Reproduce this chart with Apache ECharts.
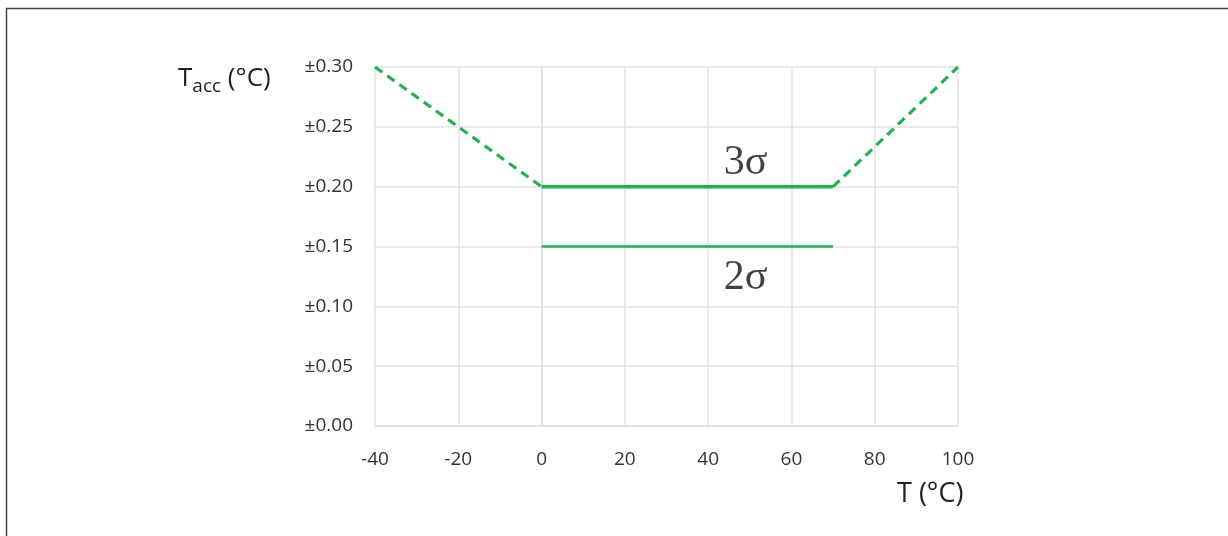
<!DOCTYPE html>
<html>
<head>
<meta charset="utf-8">
<script src="https://cdn.jsdelivr.net/npm/echarts@6/dist/echarts.min.js"></script>
<style>html,body{margin:0;padding:0;background:#fff}#c{width:1228px;height:536px}</style>
</head>
<body>
<div id="c"></div>
<script>
// Data
const xTicks = [-40, -20, 0, 20, 40, 60, 80, 100];
const yTicks = [0.00, 0.05, 0.10, 0.15, 0.20, 0.25, 0.30];
const sigma3Solid = [[0, 0.20], [70, 0.20]];
const sigma3DashLeft = [[-40, 0.30], [0, 0.20]];
const sigma3DashRight = [[70, 0.20], [100, 0.30]];
const sigma2Solid = [[0, 0.15], [70, 0.15]];
const labelPoints = [[49, 0.2195, '3σ'], [49, 0.1235, '2σ']];

const green = '#1fb24e';
const gridColor = '#dfe3e9';
const chart = echarts.init(document.getElementById('c'));
chart.setOption({
  animation: false,
  backgroundColor: '#fff',
  grid: { left: 375, right: 270, top: 67, bottom: 110 },
  xAxis: {
    type: 'value', min: -40, max: 100, interval: 20,
    axisLine: { show: true, lineStyle: { color: gridColor, width: 2 } },
    axisTick: { show: false },
    splitLine: { show: true, lineStyle: { color: gridColor, width: 1.5 } },
    axisLabel: { color: '#333', fontSize: 19, fontFamily: 'Open Sans', margin: 24 }
  },
  yAxis: {
    type: 'value', min: 0, max: 0.3, interval: 0.05,
    axisLine: { show: true, lineStyle: { color: gridColor, width: 2 } },
    axisTick: { show: false },
    splitLine: { show: true, lineStyle: { color: gridColor, width: 1.5 } },
    axisLabel: {
      color: '#333', fontSize: 19, fontFamily: 'Open Sans', margin: 22,
      formatter: v => '±' + v.toFixed(2)
    }
  },
  graphic: [
    { type: 'rect', shape: { x: 6.5, y: 8.5, width: 1300, height: 600 }, style: { fill: 'none', stroke: '#444', lineWidth: 1.5 }, z: 100 },
    { type: 'text', left: 178, top: 66, style: {
        text: '{a|T}{b|acc}{a| (°C)}',
        rich: {
          a: { fontSize: 26, fontFamily: 'Open Sans', fill: '#222' },
          b: { fontSize: 19, fontFamily: 'Open Sans', fill: '#222', padding: [16, 0, 0, 0] }
        }
      } },
    { type: 'text', left: 897, top: 481, style: { text: 'T (°C)', fontSize: 27, fontFamily: 'Open Sans', fill: '#222' } }
  ],
  series: [
    { type: 'line', data: sigma3DashLeft, symbol: 'none', lineStyle: { color: green, width: 3.2, type: [9, 6] } },
    { type: 'line', data: sigma3Solid, symbol: 'none', lineStyle: { color: green, width: 3.5 } },
    { type: 'line', data: sigma3DashRight, symbol: 'none', lineStyle: { color: green, width: 3.2, type: [9, 6] } },
    { type: 'line', data: sigma2Solid, symbol: 'none', lineStyle: { color: green, width: 2.5 } },
    { type: 'scatter', data: labelPoints, symbolSize: 0,
      label: { show: true, position: 'inside', formatter: p => p.data[2],
        fontSize: 42, fontFamily: 'Liberation Serif', color: '#111' } }
  ]
});
</script>
</body>
</html>
